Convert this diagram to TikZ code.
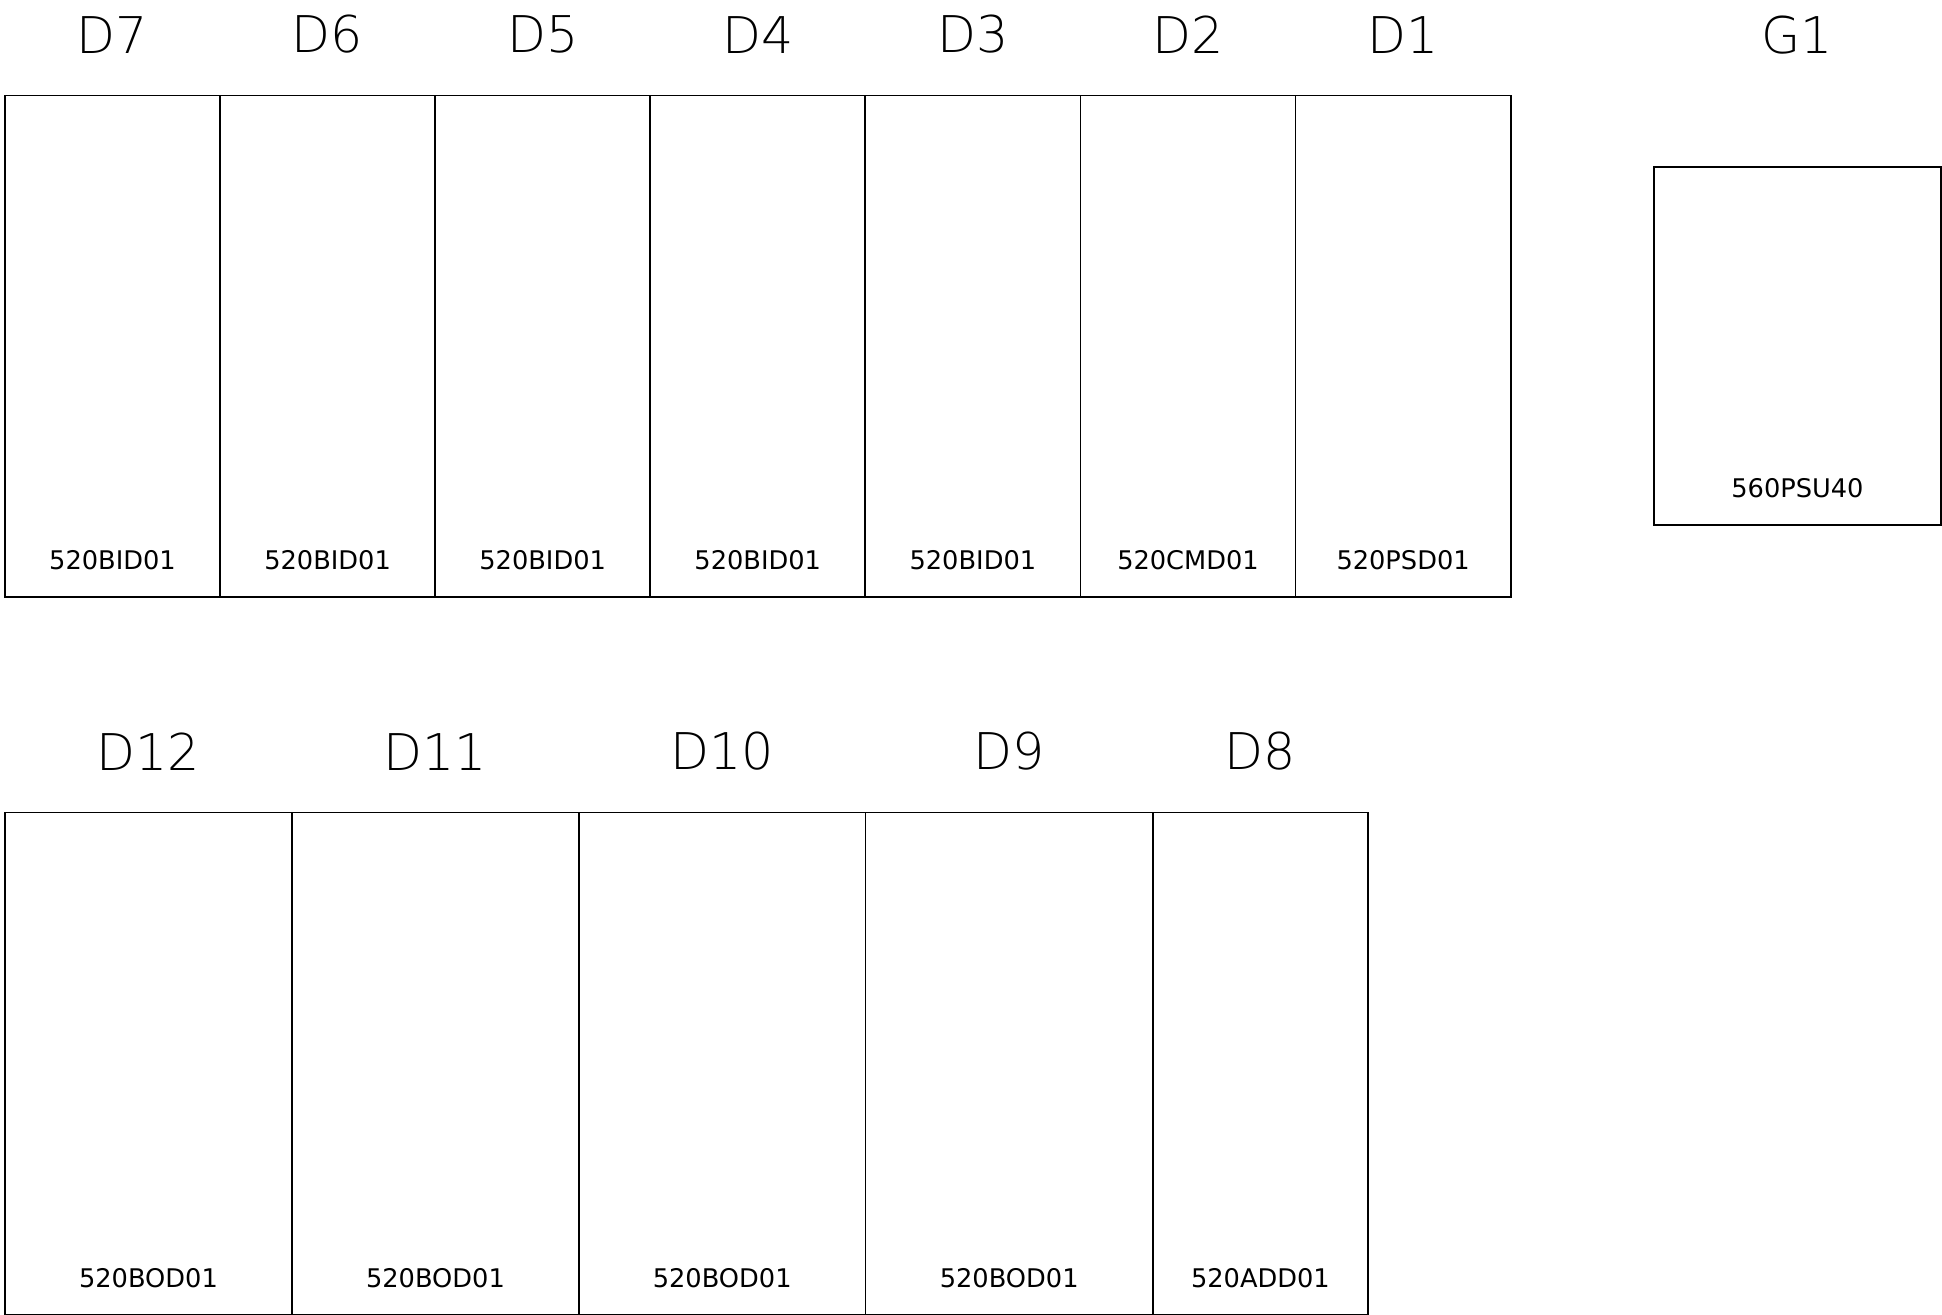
\documentclass[tikz,border=0pt]{standalone}
\usepackage{fontspec}
\setmainfont{DejaVu Sans}
\newfontfamily\thinfont{DejaVu Sans ExtraLight}
\usetikzlibrary{positioning}
\tikzset{
  slot/.style={rectangle, draw=black, line width=0.5pt, inner sep=0pt,
    anchor=north west, minimum height=5.015cm},
  slotname/.style={inner sep=0pt, font=\thinfont\fontsize{14.4}{16}\selectfont},
  partno/.style={inner sep=0pt, font=\fontsize{7.3}{9}\selectfont}
}

\begin{document}
\begin{tikzpicture}[x=0.01cm, y=-0.01cm]
  \useasboundingbox (0,0) rectangle (1942,1315);

  % Upper rack
  \foreach \name/\label/\part [count=\i from 0] in
    {d7/D7/520BID01, d6/D6/520BID01, d5/D5/520BID01, d4/D4/520BID01,
     d3/D3/520BID01, d2/D2/520CMD01, d1/D1/520PSD01} {
    \node[slot, minimum width=2.151cm] (\name) at ({4+215.1*\i}, 94.5) {};
    \node[slotname, above=0.405cm of \name] (\name n) {\label};
    \node[partno] (\name p) at ([yshift=0.375cm]\name.south) {\part};
  }

  % Power supply
  \node[slot, minimum width=2.87cm, minimum height=3.58cm] (g1) at (1653, 166) {};
  \node[slotname] (g1n) at (g1.north |- d1n.center) {G1};
  \node[partno] (g1p) at ([yshift=0.375cm]g1.south) {560PSU40};

  % Lower rack
  \foreach \name/\label/\part/\xpos/\slotw in
    {d12/D12/520BOD01/4/2.87, d11/D11/520BOD01/291/2.87,
     d10/D10/520BOD01/578/2.865, d9/D9/520BOD01/864.5/2.875,
     d8/D8/520ADD01/1152/2.15} {
    \node[slot, minimum width=\slotw cm] (\name) at (\xpos, 811.7) {};
    \node[slotname, above=0.405cm of \name] (\name n) {\label};
    \node[partno] (\name p) at ([yshift=0.375cm]\name.south) {\part};
  }
\end{tikzpicture}
\end{document}
